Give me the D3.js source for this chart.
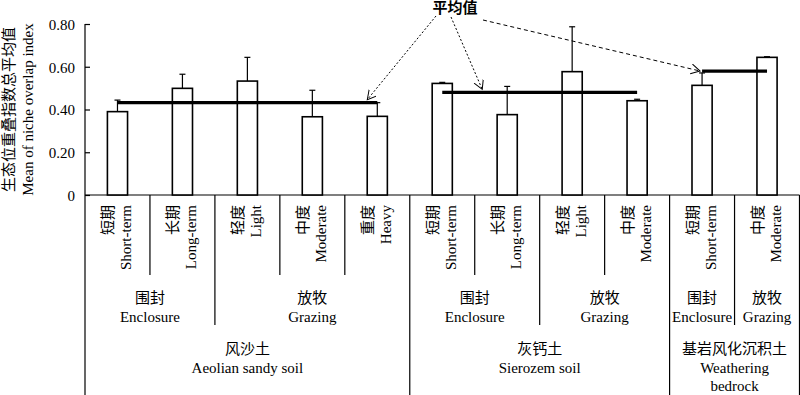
<!DOCTYPE html>
<html><head><meta charset="utf-8">
<script src="https://cdn.jsdelivr.net/npm/d3@7"></script>
<style>
html,body{margin:0;padding:0;background:#fff;}
text{font-family:"Liberation Serif","Times New Roman","Noto Sans CJK SC",serif;fill:#000;}
</style></head>
<body><svg id="c" width="800" height="395"></svg>
<script>
const categoriesCN = ["短期","长期","轻度","中度","重度","短期","长期","轻度","中度","短期","中度"];
const categoriesEN = ["Short-term","Long-term","Light","Moderate","Heavy","Short-term","Long-term","Light","Moderate","Short-term","Moderate"];
const values = [0.390,0.499,0.533,0.366,0.368,0.522,0.376,0.577,0.441,0.513,0.644];
const errors = [0.054,0.066,0.111,0.124,0.064,0.005,0.132,0.210,0.007,0.058,0.003];
const managementCN = ["围封","放牧","围封","放牧","围封","放牧"];
const managementEN = ["Enclosure","Grazing","Enclosure","Grazing","Enclosure","Grazing"];
const managementSpan = [[0,2],[2,5],[5,7],[7,9],[9,10],[10,11]];
const soilCN = ["风沙土","灰钙土","基岩风化沉积土"];
const soilEN = [["Aeolian sandy soil"],["Sierozem soil"],["Weathering","bedrock"]];
const soilSpan = [[0,5],[5,9],[9,11]];
const soilMeans = [0.432,0.480,0.580];
const yTicks = [0,0.2,0.4,0.6,0.8];
const annotationText = "平均值";

const svg = d3.select("#c");
const mLeft = 85, mRight = 799.5, mTop = 24, mBase = 195, H = 395;
const idx = d3.range(categoriesCN.length);
const x = d3.scaleBand().domain(idx).range([mLeft, mRight]).padding(0);
const y = d3.scaleLinear().domain([0,0.8]).range([mBase, mTop]);
const bw = x.bandwidth()*0.31;
const cx = i => x(i) + x.bandwidth()/2;
const edge = i => i < idx.length ? x(i) : mRight;

// y axis
const yAxis = d3.axisLeft(y).tickValues(yTicks).tickSizeInner(-5).tickSizeOuter(0)
  .tickPadding(10).tickFormat(d => d === 0 ? "0" : d3.format(".2f")(d));
const ga = svg.append("g").attr("transform", `translate(${mLeft},0)`).call(yAxis);
ga.select(".domain").remove();
ga.selectAll("line").attr("stroke","#000").attr("stroke-width",1.2);
ga.selectAll("text").attr("font-size",15).attr("font-family",'"Liberation Serif",serif').attr("dy","0.35em");
svg.append("line").attr("x1",mLeft).attr("x2",mLeft).attr("y1",mTop).attr("y2",H).attr("stroke","#000").attr("stroke-width",1.2);
svg.append("line").attr("x1",mLeft).attr("x2",mRight).attr("y1",mBase).attr("y2",mBase).attr("stroke","#000").attr("stroke-width",1.2);

// y title
const yt = svg.append("g").attr("transform",`translate(0,${(mTop+mBase)/2})`);
yt.append("text").attr("transform","translate(9,0) rotate(-90)").attr("text-anchor","middle")
  .attr("dominant-baseline","central").attr("font-size",15).text("生态位重叠指数总平均值");
yt.append("text").attr("transform","translate(28,0) rotate(-90)").attr("text-anchor","middle")
  .attr("dominant-baseline","central").attr("font-size",15).text("Mean of niche overlap index");

// error bars
const eb = svg.append("g").attr("stroke","#000").attr("stroke-width",1.2);
idx.forEach(i => {
  const yt0 = y(values[i]), yt1 = y(values[i]+errors[i]);
  eb.append("line").attr("x1",cx(i)).attr("x2",cx(i)).attr("y1",yt0).attr("y2",yt1);
  eb.append("line").attr("x1",cx(i)-3).attr("x2",cx(i)+3).attr("y1",yt1).attr("y2",yt1);
});
// bars
svg.append("g").selectAll("rect").data(idx).join("rect")
  .attr("x", i => cx(i)-bw/2).attr("width", bw)
  .attr("y", i => y(values[i])).attr("height", i => mBase - y(values[i]))
  .attr("fill","#fff").attr("stroke","#000").attr("stroke-width",1.6);

// mean lines
soilSpan.forEach((s,k) => {
  svg.append("line").attr("x1",cx(s[0])).attr("x2",cx(s[1]-1))
    .attr("y1",y(soilMeans[k])).attr("y2",y(soilMeans[k]))
    .attr("stroke","#000").attr("stroke-width",3.2);
});

// category dividers & labels
const gl = svg.append("g").attr("stroke","#000").attr("stroke-width",1.2);
const soilEdges = new Set(soilSpan.map(s=>s[0]).concat([idx.length]));
const mgmtEdges = new Set(managementSpan.map(s=>s[0]));
for (let i = 1; i <= idx.length; i++) {
  const xe = edge(i);
  let y2 = 275;
  if (soilEdges.has(i)) y2 = H; else if (mgmtEdges.has(i)) y2 = 325;
  gl.append("line").attr("x1",xe).attr("x2",xe).attr("y1",mBase).attr("y2",y2);
}
idx.forEach(i => {
  svg.append("text").attr("transform",`translate(${cx(i)-9},205) rotate(-90)`)
    .attr("text-anchor","end").attr("dominant-baseline","central").attr("font-size",15).text(categoriesCN[i]);
  svg.append("text").attr("transform",`translate(${cx(i)+9},205) rotate(-90)`)
    .attr("text-anchor","end").attr("dominant-baseline","central").attr("font-size",15).text(categoriesEN[i]);
});
managementSpan.forEach((s,k) => {
  const mx = (edge(s[0]) + edge(s[1]))/2;
  svg.append("text").attr("x",mx).attr("y",298).attr("text-anchor","middle").attr("dominant-baseline","central")
    .attr("font-size",15).text(managementCN[k]);
  svg.append("text").attr("x",mx).attr("y",317).attr("text-anchor","middle").attr("dominant-baseline","central")
    .attr("font-size",15).text(managementEN[k]);
});
soilSpan.forEach((s,k) => {
  const mx = (edge(s[0]) + edge(s[1]))/2;
  svg.append("text").attr("x",mx).attr("y",349).attr("text-anchor","middle").attr("dominant-baseline","central")
    .attr("font-size",15).text(soilCN[k]);
  soilEN[k].forEach((t,j) => {
    svg.append("text").attr("x",mx).attr("y",368+j*18).attr("text-anchor","middle").attr("dominant-baseline","central")
      .attr("font-size",15).text(t);
  });
});

// annotation
const defs = svg.append("defs");
defs.append("marker").attr("id","ah").attr("markerUnits","userSpaceOnUse")
  .attr("markerWidth",12).attr("markerHeight",12).attr("refX",9).attr("refY",5).attr("orient","auto")
  .append("path").attr("d","M0,0 L9,5 L0,10").attr("fill","none").attr("stroke","#000").attr("stroke-width",1);
svg.append("text").attr("x",455).attr("y",8).attr("text-anchor","middle").attr("dominant-baseline","central")
  .attr("font-size",15).attr("font-weight","bold").attr("font-family",'"Noto Sans CJK SC",sans-serif').text(annotationText);
const arrows = [
  {from:[436,16], to:[cx(soilSpan[0][1]-1)-10, y(soilMeans[0])-3], dash:"2,2"},
  {from:[451,17], to:[cx(soilSpan[1][0])+40, y(soilMeans[1])-3], dash:"2,2"},
  {from:[483,20], to:[cx(soilSpan[2][0])-2, y(soilMeans[2])], dash:"4,3"}
];
arrows.forEach(a => {
  svg.append("line").attr("x1",a.from[0]).attr("y1",a.from[1]).attr("x2",a.to[0]).attr("y2",a.to[1])
    .attr("stroke","#000").attr("stroke-width",1).attr("stroke-dasharray",a.dash).attr("marker-end","url(#ah)");
});
</script></body></html>
